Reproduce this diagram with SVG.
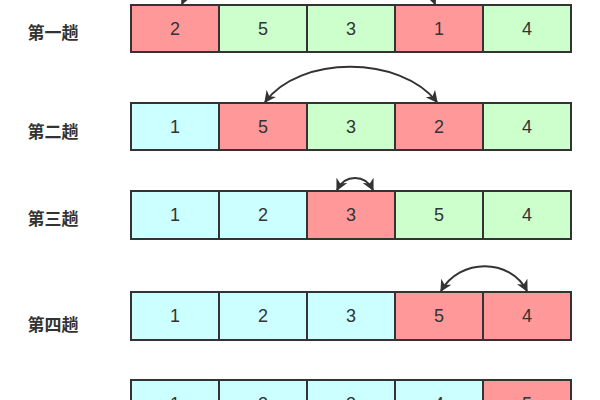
<svg xmlns="http://www.w3.org/2000/svg" width="600" height="400" viewBox="0 0 600 400">
<style>
.c{stroke:#333;stroke-width:2}
.r{fill:#FF9999}
.g{fill:#CCFFCC}
.b{fill:#CCFFFF}
.n{font-family:"Liberation Sans",Arial,sans-serif;font-size:18px;fill:#333;text-anchor:middle;dominant-baseline:central}
.l{font-family:"Noto Sans CJK SC","Noto Sans",sans-serif;font-size:17px;font-weight:bold;fill:#333;text-anchor:middle;dominant-baseline:central}
.a{fill:none;stroke:#333;stroke-width:2}
</style>
<defs>
<marker id="ah" viewBox="0 0 10 10" refX="9" refY="5" markerWidth="12" markerHeight="12" markerUnits="userSpaceOnUse" orient="auto-start-reverse">
<path d="M0,0 L10,5 L0,10 L3,5 Z" fill="#333"/>
</marker>
</defs>
<rect width="600" height="400" fill="#fff"/>
<g id="row1">
<text class="l" x="53" y="31">第一趟</text>
<rect class="c r" x="131" y="5" width="88" height="47"/><text class="n" x="175" y="28.5">2</text>
<rect class="c g" x="219" y="5" width="88" height="47"/><text class="n" x="263" y="28.5">5</text>
<rect class="c g" x="307" y="5" width="88" height="47"/><text class="n" x="351" y="28.5">3</text>
<rect class="c r" x="395" y="5" width="88" height="47"/><text class="n" x="439" y="28.5">1</text>
<rect class="c g" x="483" y="5" width="88" height="47"/><text class="n" x="527" y="28.5">4</text>
</g>
<g id="row2">
<text class="l" x="53" y="130">第二趟</text>
<rect class="c b" x="131" y="103" width="88" height="47"/><text class="n" x="175" y="126.5">1</text>
<rect class="c r" x="219" y="103" width="88" height="47"/><text class="n" x="263" y="126.5">5</text>
<rect class="c g" x="307" y="103" width="88" height="47"/><text class="n" x="351" y="126.5">3</text>
<rect class="c r" x="395" y="103" width="88" height="47"/><text class="n" x="439" y="126.5">2</text>
<rect class="c g" x="483" y="103" width="88" height="47"/><text class="n" x="527" y="126.5">4</text>
</g>
<g id="row3">
<text class="l" x="53" y="217">第三趟</text>
<rect class="c b" x="131" y="191" width="88" height="48"/><text class="n" x="175" y="215">1</text>
<rect class="c b" x="219" y="191" width="88" height="48"/><text class="n" x="263" y="215">2</text>
<rect class="c r" x="307" y="191" width="88" height="48"/><text class="n" x="351" y="215">3</text>
<rect class="c g" x="395" y="191" width="88" height="48"/><text class="n" x="439" y="215">5</text>
<rect class="c g" x="483" y="191" width="88" height="48"/><text class="n" x="527" y="215">4</text>
</g>
<g id="row4">
<text class="l" x="53" y="323">第四趟</text>
<rect class="c b" x="131" y="292" width="88" height="48"/><text class="n" x="175" y="316">1</text>
<rect class="c b" x="219" y="292" width="88" height="48"/><text class="n" x="263" y="316">2</text>
<rect class="c b" x="307" y="292" width="88" height="48"/><text class="n" x="351" y="316">3</text>
<rect class="c r" x="395" y="292" width="88" height="48"/><text class="n" x="439" y="316">5</text>
<rect class="c r" x="483" y="292" width="88" height="48"/><text class="n" x="527" y="316">4</text>
</g>
<g id="row5">
<text class="l" x="53" y="408">第五趟</text>
<rect class="c b" x="131" y="380" width="88" height="48"/><text class="n" x="175" y="404">1</text>
<rect class="c b" x="219" y="380" width="88" height="48"/><text class="n" x="263" y="404">2</text>
<rect class="c b" x="307" y="380" width="88" height="48"/><text class="n" x="351" y="404">3</text>
<rect class="c b" x="395" y="380" width="88" height="48"/><text class="n" x="439" y="404">4</text>
<rect class="c r" x="483" y="380" width="88" height="48"/><text class="n" x="527" y="404">5</text>
</g>
<g id="connectors">
<path class="a" d="M182,4 C205,-50 415,-50 435,4" marker-start="url(#ah)" marker-end="url(#ah)"/>
<path class="a" d="M265,102 C300,55 400,55 437,102" marker-start="url(#ah)" marker-end="url(#ah)"/>
<path class="a" d="M337,190 C345,174 365,174 373,190" marker-start="url(#ah)" marker-end="url(#ah)"/>
<path class="a" d="M441,291 C460,258 510,258 527,291" marker-start="url(#ah)" marker-end="url(#ah)"/>
</g>
</svg>
